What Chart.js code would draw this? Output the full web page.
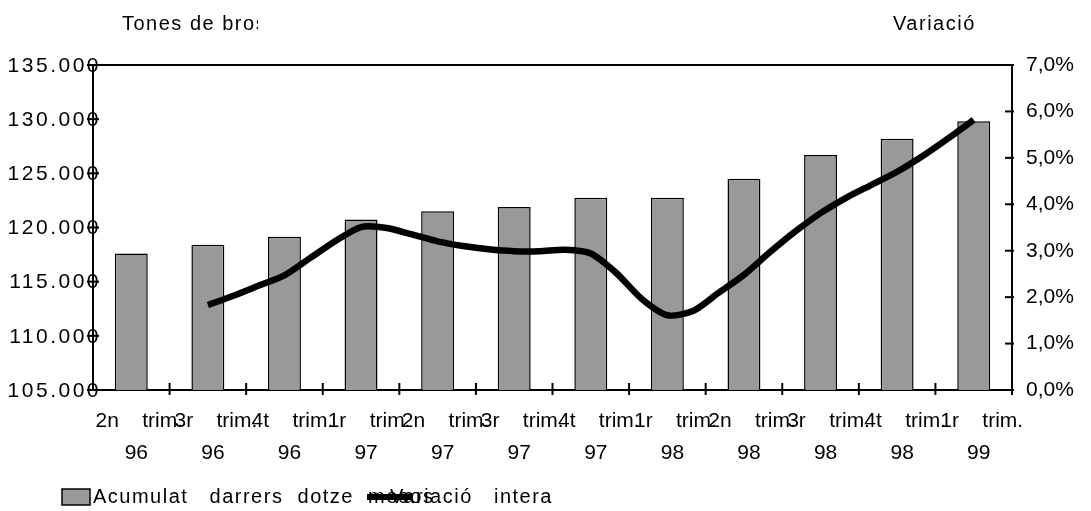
<!DOCTYPE html>
<html>
<head>
<meta charset="utf-8">
<script src="https://cdn.jsdelivr.net/npm/chart.js@4.4.1/dist/chart.umd.min.js"></script>
<style>
  html, body { margin: 0; padding: 0; background: #fff; }
  #wrap { width: 1091px; height: 511px; position: relative; }
</style>
</head>
<body>
<div id="wrap"><canvas id="chart"></canvas></div>
<script>
// ── Data ──────────────────────────────────────────────
const QUARTERS = ['2n', '3r', '4t', '1r', '2n', '3r', '4t', '1r', '2n', '3r', '4t', '1r'];
const YEARS    = ['96', '96', '96', '97', '97', '97', '97', '98', '98', '98', '98', '99'];

// Acumulat darrers dotze mesos (tones)
const TONES = [117600, 118400, 119150, 120750, 121500, 121900,
               122750, 122750, 124500, 126700, 128200, 129800];

// Variació interanual (%), monthly from 3r trim. 96 to 1r trim. 99
const VARIACIO = [1.83, 2.03, 2.25, 2.47, 2.84, 3.21, 3.51, 3.49, 3.35, 3.20,
                  3.10, 3.03, 2.99, 2.99, 3.02, 2.94, 2.52, 1.96, 1.61, 1.70,
                  2.09, 2.48, 2.96, 3.41, 3.81, 4.14, 4.42, 4.70, 5.04, 5.42, 5.82];
const MONTH_IDX = VARIACIO.map((_, i) => i);   // month 0 = 3r trim. 96

const LEFT_TICKS  = { min: 105000, max: 135000, step: 5000 };
const RIGHT_TICKS = { min: 0, max: 7, step: 1 };

// ── Helpers ───────────────────────────────────────────
const FONT = "'Liberation Sans', Arial, sans-serif";

function fmtTones(v) {
  const k = Math.floor(v / 1000);
  return k + '.' + String(v % 1000).padStart(3, '0');
}
function fmtPct(v) {
  return v.toFixed(1).replace('.', ',') + '%';
}
function seg(ctx, x1, y1, x2, y2) {
  ctx.beginPath(); ctx.moveTo(x1, y1); ctx.lineTo(x2, y2); ctx.stroke();
}

// ── Decorations: crossing ticks, left labels, titles, legend ──
const decor = {
  id: 'decor',
  afterDraw(chart) {
    const { ctx, chartArea: a, scales } = chart;
    ctx.save();
    ctx.strokeStyle = '#000';
    ctx.lineWidth = 2;
    seg(ctx, a.left, a.top, a.right, a.top);

    // left axis: wide-spaced labels + crossing ticks
    ctx.fillStyle = '#000';
    ctx.font = '21px ' + FONT;
    ctx.letterSpacing = '2.5px';
    ctx.textAlign = 'right';
    ctx.textBaseline = 'middle';
    scales.y.ticks.forEach(t => {
      const py = scales.y.getPixelForValue(t.value);
      ctx.fillText(fmtTones(t.value), a.left + 8, py + 1);
      seg(ctx, a.left - 6, py, a.left + 6, py);
    });
    scales.y2.ticks.forEach(t => {
      const py = scales.y2.getPixelForValue(t.value);
      seg(ctx, a.right - 7, py, a.right + 2, py);
    });
    const n = scales.x.ticks.length;
    for (let i = 1; i <= n; i++) {
      const px = i < n
        ? (scales.x.getPixelForValue(i - 1) + scales.x.getPixelForValue(i)) / 2
        : a.right;
      seg(ctx, px, a.bottom - 7, px, a.bottom + 5);
    }

    // axis titles
    ctx.letterSpacing = '1.5px';
    ctx.font = '20px ' + FONT;
    ctx.textBaseline = 'alphabetic';
    ctx.textAlign = 'left';
    ctx.save();
    ctx.beginPath(); ctx.rect(0, 0, 258, 60); ctx.clip();
    ctx.fillText('Tones de brossa', 122, 30);
    ctx.restore();
    ctx.fillText('Variació', 893, 30);

    // legend
    const ly = 497;
    ctx.fillStyle = '#999999';
    ctx.fillRect(62, ly - 8, 28, 16);
    ctx.lineWidth = 1.5;
    ctx.strokeRect(62, ly - 8, 28, 16);
    ctx.fillStyle = '#000';
    ctx.textBaseline = 'middle';
    ctx.fillText('Acumulat   darrers  dotze  mesos', 93, ly);
    ctx.lineWidth = 6;
    seg(ctx, 367, ly, 413, ly);
    ctx.fillText('Variació   intera', 390, ly);
    ctx.restore();
  }
};

// ── Chart ─────────────────────────────────────────────
Chart.defaults.font.family = FONT;
Chart.defaults.font.size   = 21;
Chart.defaults.color       = '#000';

new Chart(document.getElementById('chart'), {
  type: 'bar',
  data: {
    labels: QUARTERS.map((q, i) => [q + '    trim.', YEARS[i] + ' ']),
    datasets: [
      {
        type: 'line',
        label: 'Variació interanual',
        data: MONTH_IDX.map((m, i) => ({ x: m, y: VARIACIO[i] })),
        xAxisID: 'xm',
        yAxisID: 'y2',
        borderColor: '#000',
        borderWidth: 6.5,
        pointRadius: 0,
        tension: 0.25,
        order: 1,
      },
      {
        label: 'Acumulat darrers dotze mesos',
        data: TONES,
        xAxisID: 'x',
        yAxisID: 'y',
        backgroundColor: '#999999',
        borderColor: '#000',
        borderWidth: 1.5,
        grouped: false,
        barPercentage: 0.43,
        categoryPercentage: 1.0,
        order: 2,
      },
    ]
  },
  options: {
    responsive: true,
    maintainAspectRatio: false,
    animation: false,
    layout: { padding: { top: 65, left: 0, right: 0, bottom: 0 } },
    plugins: { legend: { display: false }, tooltip: { enabled: false } },
    scales: {
      x: {
        position: 'bottom',
        grid: { display: false, drawTicks: false },
        border: { display: true, color: '#000', width: 2 },
        ticks: {
          autoSkip: false, maxRotation: 0, minRotation: 0,
          padding: 15, labelOffset: 8,
          font: { size: 21, lineHeight: 1.52 },
        },
        afterFit: s => { s.height = 121; },
      },
      xm: {
        type: 'linear',
        display: false,
        offset: false,
        grid: { offset: false },
        min: -4.5,
        max: 31.5,
      },
      y: {
        position: 'left',
        min: LEFT_TICKS.min, max: LEFT_TICKS.max,
        grid: { display: false, drawTicks: false },
        border: { display: true, color: '#000', width: 2 },
        ticks: { stepSize: LEFT_TICKS.step, display: false },
        afterFit: s => { s.width = 93; },
      },
      y2: {
        position: 'right',
        min: RIGHT_TICKS.min, max: RIGHT_TICKS.max,
        grid: { display: false, drawTicks: false },
        border: { display: true, color: '#000', width: 2 },
        ticks: { stepSize: RIGHT_TICKS.step, padding: 14, callback: v => fmtPct(v) },
        afterFit: s => { s.width = 79; },
      },
    }
  },
  plugins: [decor]
});
</script>
</body>
</html>
